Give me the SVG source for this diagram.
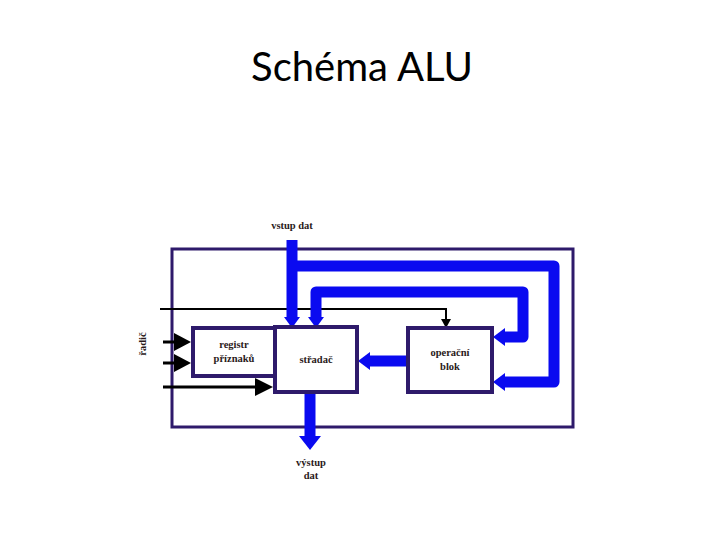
<svg xmlns="http://www.w3.org/2000/svg" width="720" height="540" viewBox="0 0 720 540">
<style>
.title{font-family:Lato,"Open Sans","Liberation Sans",sans-serif;font-size:40px;fill:#000}
.lbl{font-family:"Liberation Serif","DejaVu Serif",serif;font-size:10.5px;font-weight:bold;fill:#2a1a1a;text-anchor:middle}
.box{fill:#fff;stroke:#2e1a6b;stroke-width:4}
.frame{fill:none;stroke:#2e1a6b;stroke-width:3}
.bus{fill:none;stroke:#0a0af0;stroke-width:11;stroke-linejoin:round}
.bhead{fill:#0a0af0}
.wire{fill:none;stroke:#000;stroke-width:3}
.thin{fill:none;stroke:#000;stroke-width:2}
.khead{fill:#000}
</style>
<rect width="720" height="540" fill="#fff"/>
<text class="title" x="362" y="81" text-anchor="middle">Schéma ALU</text>
<rect class="frame" x="172" y="249" width="401" height="178"/>
<g id="connectors">
<path class="thin" d="M160,309 H446 V321"/>
<polygon class="khead" points="441,319 451,319 446,328"/>
<path class="bus" d="M292,240 V318"/>
<polygon class="bhead" points="284,317 300,317 292,328"/>
<path class="bus" d="M292,266 H554 V382 H503"/>
<polygon class="bhead" points="505,373 505,391 493,382"/>
<path class="bus" d="M316,318 V292 H523 V337 H503"/>
<polygon class="bhead" points="308,317 324,317 316,328"/>
<polygon class="bhead" points="505,328 505,346 493,337"/>
<path class="bus" d="M408,361 H368"/>
<polygon class="bhead" points="370,352 370,370 358,361"/>
<path class="bus" d="M310,392 V438"/>
<polygon class="bhead" points="299,436 321,436 310,450"/>
<path class="wire" d="M163,342 H178"/>
<polygon class="khead" points="174,333 174,351 191,342"/>
<path class="wire" d="M163,363 H178"/>
<polygon class="khead" points="174,354 174,372 191,363"/>
<path class="wire" d="M163,387 H258"/>
<polygon class="khead" points="255,378 255,396 273,387"/>
</g>
<g id="registr">
<rect class="box" x="193" y="328" width="82" height="48"/>
<text class="lbl" x="234" y="348">registr</text>
<text class="lbl" x="234" y="362">příznaků</text>
</g>
<g id="stradac">
<rect class="box" x="275" y="327" width="82" height="65"/>
<text class="lbl" x="316" y="363">střadač</text>
</g>
<g id="operacni">
<rect class="box" x="408" y="328" width="84" height="64"/>
<text class="lbl" x="450" y="356">operační</text>
<text class="lbl" x="450" y="370">blok</text>
</g>
<g id="labels">
<text class="lbl" x="292" y="229">vstup dat</text>
<text class="lbl" x="311" y="466">výstup</text>
<text class="lbl" x="311" y="479">dat</text>
<text class="lbl" transform="translate(146,344) rotate(-90)">řadič</text>
</g>
</svg>
